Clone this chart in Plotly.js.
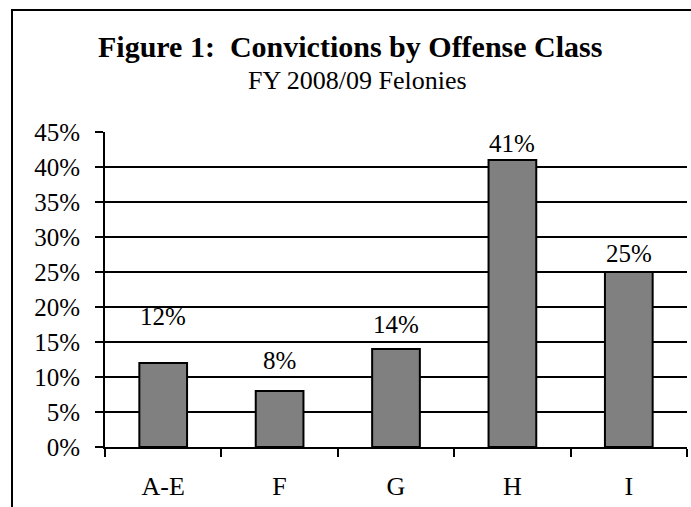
<!DOCTYPE html>
<html>
<head>
<meta charset="utf-8">
<script src="https://cdn.plot.ly/plotly-3.0.1.min.js"></script>
<style>
  html, body { margin: 0; padding: 0; background: #fff; overflow: hidden; }
  #wrap { position: relative; width: 691px; height: 507px; overflow: hidden; }
  #chart { width: 691px; height: 507px; }
  #frame {
    position: absolute; left: 11px; top: 9px; width: 680px; height: 498px;
    border-left: 2px solid #000; border-top: 2px solid #000;
    pointer-events: none;
  }
</style>
</head>
<body>
<div id="wrap">
  <div id="chart"></div>
  <div id="frame"></div>
</div>
<script>
// offense classes and share of felony convictions, FY 2008/09
var classes = ['A-E', 'F', 'G', 'H', 'I'];
var shares = [0.12, 0.08, 0.14, 0.41, 0.25];
var labelShift = [31, 15, 9, 1, 3]; // labels sit at uneven heights in the original

var serif = '"Liberation Serif", "Times New Roman", serif';

var trace = {
  type: 'bar',
  x: classes,
  y: shares,
  marker: { color: '#808080', line: { color: '#000', width: 2 } },
  hoverinfo: 'skip'
};

var notes = classes.map(function (c, i) {
  return {
    x: c, y: shares[i], xref: 'x', yref: 'y',
    text: Math.round(shares[i] * 100) + '%',
    showarrow: false, yanchor: 'bottom', yshift: labelShift[i],
    font: { family: serif, size: 25, color: '#000' }
  };
});

notes.push({
  xref: 'paper', yref: 'paper', x: 0.421, y: 1.273,
  text: '<b>Figure 1:&nbsp; Convictions by Offense Class</b>',
  showarrow: false, xanchor: 'center', yanchor: 'middle',
  font: { family: serif, size: 30, color: '#000' }
});
notes.push({
  xref: 'paper', yref: 'paper', x: 0.433, y: 1.162,
  text: 'FY 2008/09 Felonies',
  showarrow: false, xanchor: 'center', yanchor: 'middle',
  font: { family: serif, size: 26, color: '#000' }
});

var layout = {
  width: 691,
  height: 507,
  margin: { l: 105, r: 4, t: 132, b: 60 },
  paper_bgcolor: '#fff',
  plot_bgcolor: '#fff',
  showlegend: false,
  bargap: 0.59,
  font: { family: serif, size: 25, color: '#000' },
  xaxis: {
    type: 'category',
    tickson: 'boundaries',
    ticks: 'outside', ticklen: 8, tickwidth: 2, tickcolor: '#000',
    ticklabelstandoff: 15,
    showline: true, linecolor: '#000', linewidth: 2,
    showgrid: false, zeroline: false,
    tickfont: { family: serif, size: 26, color: '#000' }
  },
  yaxis: {
    range: [0, 0.45],
    dtick: 0.05,
    tickformat: '.0%',
    ticks: 'outside', ticklen: 8, tickwidth: 2, tickcolor: '#000',
    ticklabelstandoff: 10,
    showline: true, linecolor: '#000', linewidth: 2,
    showgrid: true, gridcolor: '#000', gridwidth: 2,
    zeroline: false,
    tickfont: { family: serif, size: 25, color: '#000' }
  },
  annotations: notes
};

Plotly.newPlot('chart', [trace], layout, { displayModeBar: false, staticPlot: true });
</script>
</body>
</html>
